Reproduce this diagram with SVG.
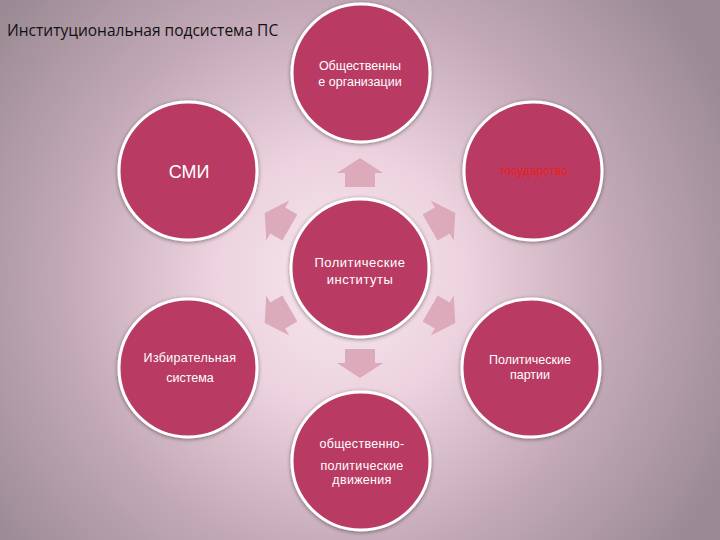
<svg xmlns="http://www.w3.org/2000/svg" width="720" height="540" viewBox="0 0 720 540">
<defs>
<radialGradient id="bg" cx="340" cy="280" r="430" gradientUnits="userSpaceOnUse">
<stop offset="0" stop-color="#f7e7ef"/>
<stop offset="0.3" stop-color="#ecd2de"/>
<stop offset="0.65" stop-color="#c2a8b6"/>
<stop offset="1" stop-color="#9a8a94"/>
</radialGradient>
<filter id="sh" x="-20%" y="-20%" width="140%" height="140%">
<feGaussianBlur in="SourceAlpha" stdDeviation="2"/>
<feOffset dx="0" dy="1" result="b"/>
<feComponentTransfer><feFuncA type="linear" slope="0.45"/></feComponentTransfer>
<feMerge><feMergeNode/><feMergeNode in="SourceGraphic"/></feMerge>
</filter>
<path id="arr" d="M0,-14 L23,1 L15,1 L15,15 L-15,15 L-15,1 L-23,1 Z"/>
</defs>
<style>
.c{fill:#b93a63;stroke:#ffffff;stroke-width:3;filter:url(#sh)}
.t{font-family:"Liberation Sans",Arial,sans-serif;fill:#ffffff;text-anchor:middle}
.a{fill:#d9a5b6;opacity:0.9}
</style>
<rect width="720" height="540" fill="url(#bg)"/>
<text x="7" y="36" font-family="'Open Sans','Liberation Sans',sans-serif" font-size="15.5" fill="#111111">Институциональная подсистема ПС</text>
<g id="connectors">
<use href="#arr" class="a" transform="translate(360,268) rotate(0) translate(0,-96)"/>
<use href="#arr" class="a" transform="translate(360,268) rotate(-60) translate(0,-96)"/>
<use href="#arr" class="a" transform="translate(360,268) rotate(60) translate(0,-96)"/>
<use href="#arr" class="a" transform="translate(360,268) rotate(-120) translate(0,-96)"/>
<use href="#arr" class="a" transform="translate(360,268) rotate(120) translate(0,-96)"/>
<use href="#arr" class="a" transform="translate(360,268) rotate(180) translate(0,-96)"/>
</g>
<g id="center">
<circle class="c" cx="360" cy="268" r="69"/>
<text class="t" x="360" y="267" font-size="13" letter-spacing="0.5">Политические</text>
<text class="t" x="360" y="284" font-size="13" letter-spacing="0.5">институты</text>
</g>
<g id="top">
<circle class="c" cx="361" cy="73" r="69"/>
<text class="t" x="360" y="70" font-size="12.5">Общественны</text>
<text class="t" x="360" y="86" font-size="12.5">е организации</text>
</g>
<g id="smi">
<circle class="c" cx="188" cy="171" r="69"/>
<text class="t" x="189" y="178" font-size="18">СМИ</text>
</g>
<g id="gos">
<circle class="c" cx="533" cy="171" r="69"/>
<text x="534" y="175" font-family="'Liberation Sans',Arial,sans-serif" font-size="12" fill="#e8201c" text-anchor="middle">государство</text>
</g>
<g id="izb">
<circle class="c" cx="188" cy="368" r="69"/>
<text class="t" x="190" y="362" font-size="12.5" letter-spacing="0.3">Избирательная</text>
<text class="t" x="190" y="382" font-size="12.5">система</text>
</g>
<g id="part">
<circle class="c" cx="531" cy="368" r="69"/>
<text class="t" x="530" y="364" font-size="12.5">Политические</text>
<text class="t" x="530" y="379" font-size="12.5">партии</text>
</g>
<g id="bottom">
<circle class="c" cx="361" cy="461" r="69"/>
<text class="t" x="362" y="448" font-size="12.5" letter-spacing="0.3">общественно-</text>
<text class="t" x="362" y="470" font-size="12.5" letter-spacing="0.3">политические</text>
<text class="t" x="362" y="484" font-size="12.5" letter-spacing="0.3">движения</text>
</g>
</svg>
